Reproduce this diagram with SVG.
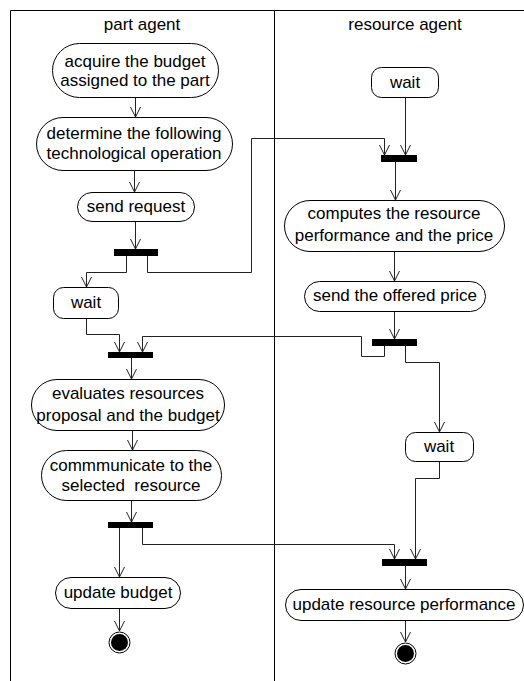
<svg xmlns="http://www.w3.org/2000/svg" width="524" height="681" viewBox="0 0 524 681">
<style>
.n{fill:#fff;stroke:#000;stroke-width:1}
.t{font-family:"Liberation Sans",Arial,sans-serif;font-size:17px;fill:#000;text-anchor:middle}
.bar{fill:#000}
.c{fill:none;stroke:#222;stroke-width:1;marker-end:url(#a)}
.lane{fill:none;stroke:#000;stroke-width:1}
</style>
<defs>
<marker id="a" viewBox="0 0 12 12" refX="11" refY="6" markerWidth="12" markerHeight="12" markerUnits="userSpaceOnUse" orient="auto">
<path d="M1,1 L11,6 L1,11" fill="none" stroke="#222" stroke-width="1"/>
</marker>
</defs>
<rect width="524" height="681" fill="#fff"/>
<g id="lanes">
<path class="lane" d="M10.5,681 V10.5 H524 M274.5,10.5 V681"/>
<text class="t" x="142" y="30">part agent</text>
<text class="t" x="405" y="30">resource agent</text>
</g>
<g id="connectors">
<path class="c" d="M135.5,97 V117"/>
<path class="c" d="M134.5,170 V192"/>
<path class="c" d="M135.5,221 V249"/>
<path class="c" d="M126.5,256 V272.5 H86.5 V287"/>
<path class="c" d="M147.5,256 V272.5 H251.5 V138.5 H384.5 V155"/>
<path class="c" d="M405.5,97 V155"/>
<path class="c" d="M395.5,162 V200"/>
<path class="c" d="M394.5,251 V281"/>
<path class="c" d="M394.5,311 V339"/>
<path class="c" d="M384.5,346 V356.5 H361.5 V336.5 H142.5 V352"/>
<path class="c" d="M86.5,318 V334.5 H119.5 V352"/>
<path class="c" d="M131.5,358 V379"/>
<path class="c" d="M132.5,430 V450"/>
<path class="c" d="M131.5,500 V522"/>
<path class="c" d="M119.5,528 V577"/>
<path class="c" d="M142.5,528 V544.5 H394.5 V559"/>
<path class="c" d="M405.5,346 V362.5 H439.5 V432"/>
<path class="c" d="M439.5,461 V478.5 H415.5 V559"/>
<path class="c" d="M405.5,566 V589"/>
<path class="c" d="M119.5,608 V631"/>
<path class="c" d="M405.5,620 V642"/>
</g>
<g id="acquire">
<rect class="n" x="52.5" y="43.5" width="166" height="54" rx="27"/>
<text class="t" x="135" y="67">acquire the budget</text>
<text class="t" x="135" y="86">assigned to the part</text>
</g>
<g id="determine">
<rect class="n" x="36.5" y="117.5" width="196" height="53" rx="26.5"/>
<text class="t" x="134" y="139">determine the following</text>
<text class="t" x="134" y="159">technological operation</text>
</g>
<g id="send-request">
<rect class="n" x="77.5" y="192.5" width="117" height="29" rx="14.5"/>
<text class="t" x="136" y="212">send request</text>
</g>
<g id="fork1"><rect class="bar" x="114" y="249" width="44" height="7"/></g>
<g id="wait-part">
<rect class="n" x="53.5" y="287.5" width="65" height="31" rx="10"/>
<text class="t" x="86" y="308">wait</text>
</g>
<g id="join-part"><rect class="bar" x="108" y="352" width="45" height="6"/></g>
<g id="evaluates">
<rect class="n" x="31.5" y="379.5" width="193" height="51" rx="25.5"/>
<text class="t" x="128" y="399">evaluates resources</text>
<text class="t" x="128" y="421">proposal and the budget</text>
</g>
<g id="communicate">
<rect class="n" x="41.5" y="450.5" width="180" height="50" rx="25"/>
<text class="t" x="131" y="471">commmunicate to the</text>
<text class="t" x="131" y="491" xml:space="preserve">selected  resource</text>
</g>
<g id="fork-part"><rect class="bar" x="108" y="522" width="45" height="6"/></g>
<g id="update-budget">
<rect class="n" x="55.5" y="577.5" width="125" height="31" rx="15.5"/>
<text class="t" x="118" y="598">update budget</text>
</g>
<g id="end-part">
<circle cx="119.5" cy="642.5" r="10.5" fill="#fff" stroke="#000"/>
<circle cx="119.5" cy="642.5" r="8.5" fill="#000"/>
</g>
<g id="wait-resource-1">
<rect class="n" x="371.5" y="67.5" width="67" height="30" rx="10"/>
<text class="t" x="405" y="88">wait</text>
</g>
<g id="join-resource-1"><rect class="bar" x="381" y="155" width="36" height="7"/></g>
<g id="computes">
<rect class="n" x="284.5" y="200.5" width="220" height="51" rx="25.5"/>
<text class="t" x="394" y="219">computes the resource</text>
<text class="t" x="394" y="241">performance and the price</text>
</g>
<g id="send-price">
<rect class="n" x="304.5" y="281.5" width="181" height="30" rx="15"/>
<text class="t" x="395" y="301">send the offered price</text>
</g>
<g id="fork-resource"><rect class="bar" x="372" y="339" width="45" height="7"/></g>
<g id="wait-resource-2">
<rect class="n" x="405.5" y="432.5" width="68" height="29" rx="10"/>
<text class="t" x="439" y="452">wait</text>
</g>
<g id="join-resource-2"><rect class="bar" x="382" y="559" width="45" height="7"/></g>
<g id="update-resource">
<rect class="n" x="285.5" y="589.5" width="238" height="31" rx="15.5"/>
<text class="t" x="404" y="610">update resource performance</text>
</g>
<g id="end-resource">
<circle cx="405.5" cy="653.5" r="10.5" fill="#fff" stroke="#000"/>
<circle cx="405.5" cy="653.5" r="8.5" fill="#000"/>
</g>
</svg>
